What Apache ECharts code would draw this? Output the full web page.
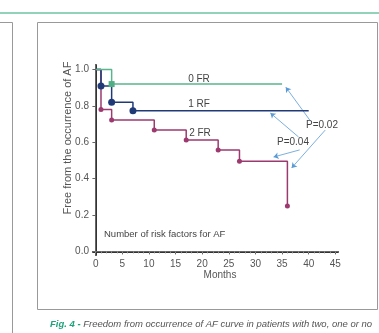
<!DOCTYPE html>
<html>
<head>
<meta charset="utf-8">
<script src="https://cdn.jsdelivr.net/npm/echarts@6/dist/echarts.min.js"></script>
<style>
  html, body { margin: 0; padding: 0; background: #fff; }
  #main { width: 379px; height: 333px; }
</style>
</head>
<body>
<div id="main"></div>
<script>
  // Kaplan-Meier steps [month, freedom]
  var fr0 = [[0, 1.0], [3, 0.92], [35, 0.92]];
  var rf1 = [[0, 1.0], [1, 0.91], [3, 0.82], [7, 0.773], [40, 0.773]];
  var fr2 = [[0, 1.0], [1, 0.78], [3, 0.722], [11, 0.667], [17, 0.612], [23, 0.558], [27, 0.496], [36, 0.25]];
  // marker flags: which points of each curve carry a symbol
  var fr0Marks = [false, true, false];
  var rf1Marks = [false, true, true, true, false];
  var fr2Marks = [false, true, true, true, true, true, true, true];

  var xTicks = [0, 5, 10, 15, 20, 25, 30, 35, 40, 45];
  var yTicks = [0, 0.2, 0.4, 0.6, 0.8, 1.0];
  var xMinor = [];
  for (var i = 0; i <= 45; i++) xMinor.push(i);

  // p-value arrows [from, to] in data units
  var arrows = [
    [[40.2, 0.722], [35.7, 0.903]],
    [[43.1, 0.667], [36.8, 0.459]],
    [[38.1, 0.629], [32.8, 0.761]],
    [[38.3, 0.558], [33.4, 0.519]]
  ];

  var narrow = "'Liberation Sans Narrow', 'Arial Narrow', 'Liberation Sans', sans-serif";

  function pts(data, marks) {
    return data.map(function (d, i) {
      return marks[i] ? { value: d } : { value: d, symbol: 'none' };
    });
  }

  var myChart = echarts.init(document.getElementById('main'));

  var option = {
    animation: false,
    grid: { left: 93, right: 41, top: 65, bottom: 78 },
    xAxis: [
      {
        type: 'value', min: -0.5, max: 45.5, position: 'bottom',
        splitLine: { show: false },
        axisLine: { show: true, lineStyle: { color: '#333', width: 2 } },
        axisTick: { show: true, length: 3, lineStyle: { color: '#555' }, customValues: xTicks },
        axisLabel: { color: '#555', fontSize: 10, fontFamily: narrow, margin: 4, customValues: xTicks }
      },
      {
        type: 'value', min: -0.5, max: 45.5, position: 'top',
        splitLine: { show: false },
        axisLine: { show: true, lineStyle: { color: '#666', width: 1 } },
        axisTick: { show: true, inside: true, length: 2, lineStyle: { color: '#888' }, customValues: xMinor },
        axisLabel: { show: false }
      }
    ],
    yAxis: [
      {
        type: 'value', min: -0.02, max: 1.025, position: 'left',
        splitLine: { show: false },
        axisLine: { show: true, lineStyle: { color: '#333', width: 2 } },
        axisTick: { show: true, length: 3, lineStyle: { color: '#555' }, customValues: yTicks },
        axisLabel: {
          color: '#555', fontSize: 10, fontFamily: narrow, margin: 4, customValues: yTicks,
          formatter: function (v) { return v.toFixed(1); }
        }
      },
      {
        type: 'value', min: -0.02, max: 1.025, position: 'right',
        splitLine: { show: false },
        axisLine: { show: true, lineStyle: { color: '#666', width: 1 } },
        axisTick: { show: true, inside: true, length: 3, lineStyle: { color: '#666' }, customValues: yTicks },
        axisLabel: { show: false }
      }
    ],
    series: [
      {
        type: 'line', step: 'end', data: pts(fr2, fr2Marks),
        symbol: 'circle', symbolSize: 5,
        lineStyle: { color: '#9c3a70', width: 1.5 },
        itemStyle: { color: '#9c3a70' }
      },
      {
        type: 'line', step: 'end', data: pts(rf1, rf1Marks),
        symbol: 'circle', symbolSize: 7,
        lineStyle: { color: '#203a78', width: 1.5 },
        itemStyle: { color: '#203a78' }
      },
      {
        type: 'line', step: 'end', data: pts(fr0, fr0Marks),
        symbol: 'rect', symbolSize: 6,
        lineStyle: { color: '#5ab58d', width: 1.5 },
        itemStyle: { color: '#4fae85' }
      },
      {
        type: 'lines', coordinateSystem: 'cartesian2d',
        symbol: ['none', 'arrow'], symbolSize: 5,
        lineStyle: { color: '#5b9bd5', width: 0.8, opacity: 1 },
        data: arrows.map(function (a) { return { coords: a }; })
      }
    ],
    graphic: [
      { type: 'line', shape: { x1: 0, y1: 13, x2: 379, y2: 13 }, style: { stroke: '#6cc5a0', lineWidth: 1.5 } },
      { type: 'rect', shape: { x: -2, y: 22.5, width: 14.5, height: 320 }, style: { fill: 'none', stroke: '#999', lineWidth: 1 } },
      { type: 'rect', shape: { x: 37.5, y: 22.5, width: 340, height: 287 }, style: { fill: 'none', stroke: '#999', lineWidth: 1 } },
      { type: 'text', x: 199, y: 79, style: { text: '0 FR', fontSize: 10, fontFamily: narrow, fill: '#444', align: 'center', verticalAlign: 'middle' } },
      { type: 'text', x: 199, y: 104, style: { text: '1 RF', fontSize: 10, fontFamily: narrow, fill: '#444', align: 'center', verticalAlign: 'middle' } },
      { type: 'text', x: 200, y: 133, style: { text: '2 FR', fontSize: 10, fontFamily: narrow, fill: '#444', align: 'center', verticalAlign: 'middle' } },
      { type: 'text', x: 322, y: 125, style: { text: 'P=0.02', fontSize: 10, fontFamily: narrow, fill: '#444', align: 'center', verticalAlign: 'middle' } },
      { type: 'text', x: 293, y: 142, style: { text: 'P=0.04', fontSize: 10, fontFamily: narrow, fill: '#444', align: 'center', verticalAlign: 'middle' } },
      { type: 'text', x: 104, y: 234, style: { text: 'Number of risk factors for AF', fontSize: 9.5, fontFamily: narrow, fill: '#444', verticalAlign: 'middle' } },
      { type: 'text', x: 220, y: 275, style: { text: 'Months', fontSize: 10, fontFamily: narrow, fill: '#555', align: 'center', verticalAlign: 'middle' } },
      { type: 'text', x: 68, y: 138, rotation: Math.PI / 2, style: { text: 'Free from the occurrence of AF', fontSize: 11, fontFamily: narrow, fill: '#555', align: 'center', verticalAlign: 'middle' } },
      {
        type: 'text', x: 50, y: 324,
        style: {
          text: '{g|Fig. 4 - }{t|Freedom from occurrence of AF curve in patients with two, one or no}',
          verticalAlign: 'middle',
          rich: {
            g: { fill: '#1fa27a', fontSize: 9.5, fontStyle: 'italic', fontWeight: 'bold', fontFamily: 'Liberation Sans, sans-serif' },
            t: { fill: '#555', fontSize: 9.5, fontStyle: 'italic', fontFamily: 'Liberation Sans, sans-serif' }
          }
        }
      }
    ]
  };

  myChart.setOption(option);
</script>
</body>
</html>
